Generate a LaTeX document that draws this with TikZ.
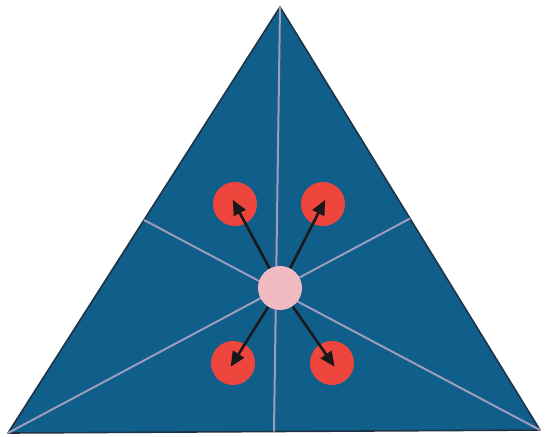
\documentclass[tikz,border=0pt]{standalone}
\usepackage{tikz}
\usetikzlibrary{arrows.meta, calc}

\definecolor{azul}{RGB}{16,94,138}
\definecolor{borde}{RGB}{30,52,70}
\definecolor{rojo}{RGB}{238,70,60}
\definecolor{rosa}{RGB}{242,186,194}
\definecolor{gris}{RGB}{156,156,190}

\begin{document}
\begin{tikzpicture}[
    x=0.5pt, y=-0.5pt,
    placa/.style  = {fill=azul, draw=borde, line width=0.8pt, line join=round},
    radio/.style  = {draw=gris, line width=1pt},
    centro/.style = {circle, fill=rosa, minimum size=22pt, inner sep=0pt},
    carga/.style  = {circle, fill=rojo, minimum size=22pt, inner sep=0pt},
    flecha/.style = {-{Triangle[length=7.5pt,width=6.5pt]}, draw=black!90,
                     line width=1.3pt},
  ]
  \useasboundingbox (0,0) rectangle (545,436);

  %-------------------------------------------------- triangulo
  \coordinate (V) at (280,7);
  \coordinate (I) at (8,433);
  \coordinate (D) at (540,430);
  \draw[placa] (V) -- (D) -- (I) -- cycle;

  %-------------------------------------------------- medianas
  \coordinate (MB) at ($(I)!0.5!(D)$);
  \coordinate (MI) at ($(V)!0.5!(I)$);
  \coordinate (MD) at ($(V)!0.5!(D)$);
  \draw[radio] (V) -- (MB);
  \draw[radio] (I) -- (MD);
  \draw[radio] (D) -- (MI);

  %-------------------------------------------------- cargas
  \node[centro] (C) at (280,288) {};
  \node[carga] (A1) at (235,204) {};
  \node[carga] (A2) at (323,204) {};
  \node[carga] (B1) at (233,363) {};
  \node[carga] (B2) at (332,363) {};

  %-------------------------------------------------- flechas
  \foreach \q in {A1,A2,B1,B2}
    \draw[flecha] (C) -- ($(C)!1.05!(\q.center)$);
\end{tikzpicture}
\end{document}
